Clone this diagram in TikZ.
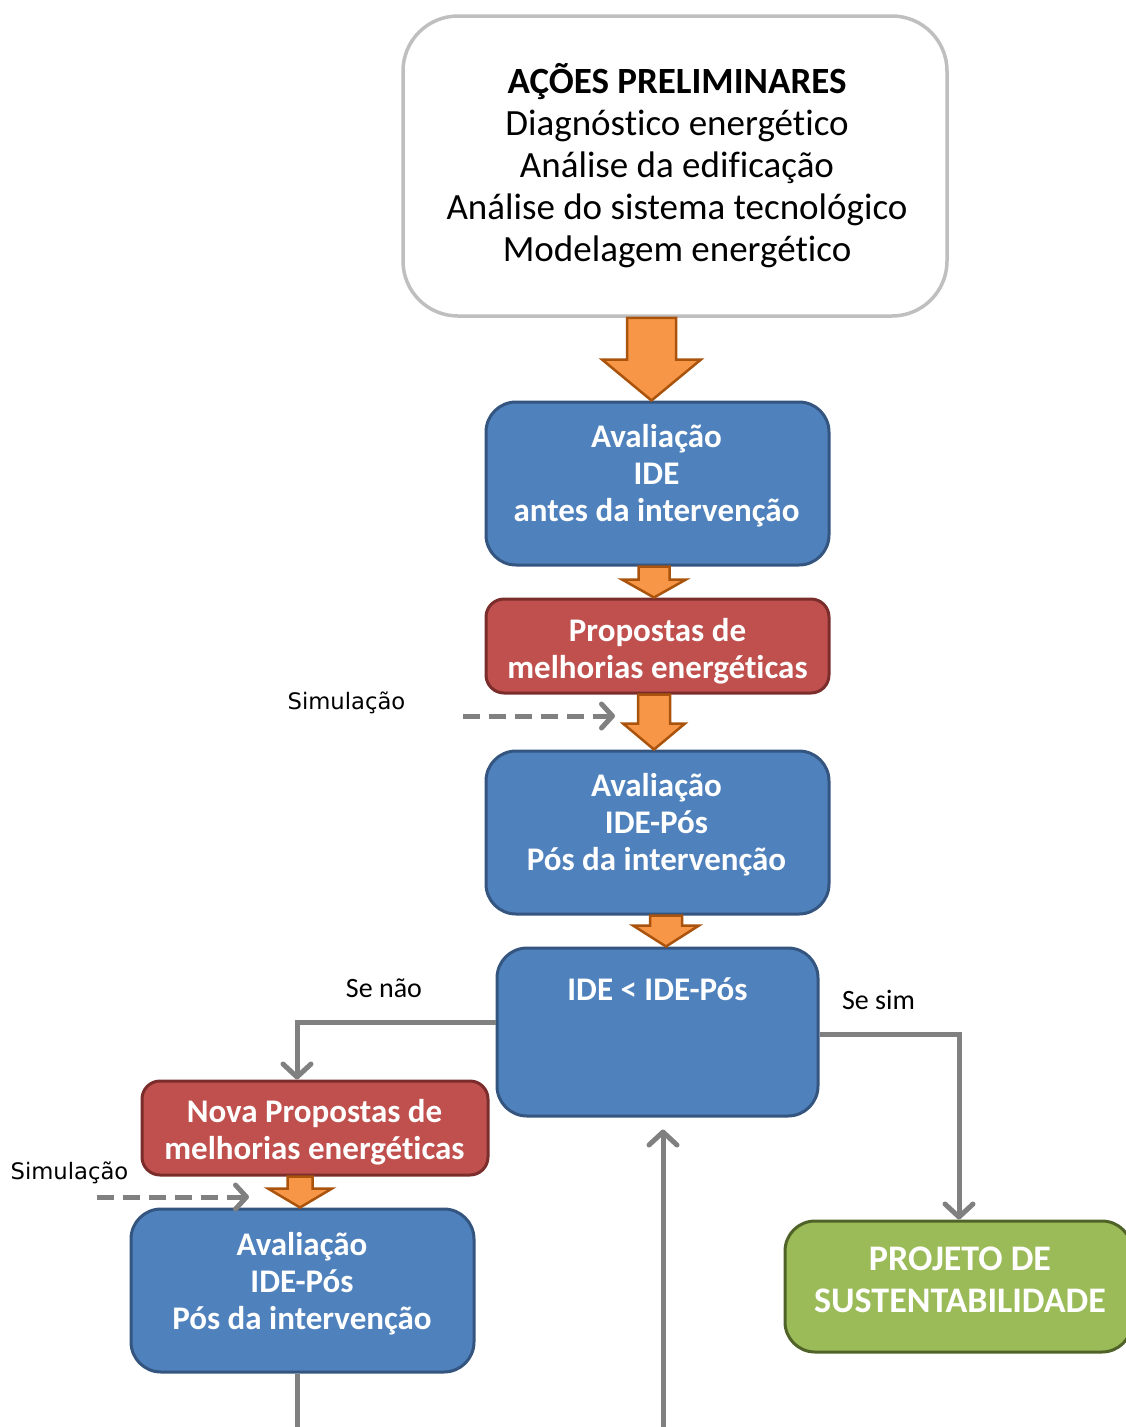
\documentclass[tikz,border=0pt]{standalone}
\usepackage{fontspec}
\setmainfont{Carlito}[Ligatures=NoCommon]
\newfontfamily\labelfont{DejaVu Sans}
\usetikzlibrary{calc,arrows.meta}

\definecolor{bluefill}{HTML}{4F81BD}
\definecolor{blueline}{HTML}{34557F}
\definecolor{redfill}{HTML}{C0504D}
\definecolor{redline}{HTML}{7A2D2A}
\definecolor{greenfill}{HTML}{9BBB59}
\definecolor{greenline}{HTML}{4F6228}
\definecolor{orangefill}{HTML}{F79646}
\definecolor{orangeline}{HTML}{A9530C}
\definecolor{connector}{HTML}{808080}
\definecolor{frameline}{HTML}{BFBFBF}

\tikzset{
  box/.style={rectangle, line width=3pt, inner sep=0pt},
  bluebox/.style={box, draw=blueline, fill=bluefill, rounded corners=30pt},
  redbox/.style={box, draw=redline, fill=redfill, rounded corners=18pt},
  greenbox/.style={box, draw=greenline, fill=greenfill, rounded corners=30pt},
  startbox/.style={box, draw=frameline, line width=3.5pt, fill=white, rounded corners=55pt},
  boxtext/.style={text=white, align=center, font=\bfseries\fontsize{33}{37}\selectfont},
  starttext/.style={text=black, align=center, font=\fontsize{37}{42}\selectfont},
  sidetext/.style={text=black, font=\fontsize{28}{32}\selectfont},
  simtext/.style={text=black, font=\labelfont\fontsize{22.7}{26}\selectfont},
  orangearrow/.style={fill=orangefill, draw=orangeline, line width=2.5pt, line join=miter},
  flowline/.style={draw=connector, line width=5pt,
    -{Straight Barb[length=13pt,width=28pt,round]}},
  simline/.style={draw=connector, line width=5pt, dash pattern=on 17pt off 9pt,
    -{Straight Barb[length=11pt,width=24pt,round]}},
}

% block arrow between two nodes: #1 from, #2 to, #3 x position,
% #4 shaft half width, #5 head half width, #6 head length
\newcommand\blockarrow[6]{%
  \draw[orangearrow] let \p1=(#1.south), \p2=(#2.north) in
    (#3pt-#4pt,\y1) -- (#3pt+#4pt,\y1) -- (#3pt+#4pt,\y2+#6pt) --
    (#3pt+#5pt,\y2+#6pt) -- (#3pt,\y2) -- (#3pt-#5pt,\y2+#6pt) --
    (#3pt-#4pt,\y2+#6pt) -- cycle;}

\begin{document}
\begin{tikzpicture}[x=1pt, y=-1pt]
\useasboundingbox (0,0) rectangle (1126,1427);
\clip (0,0) rectangle (1126,1427);

% boxes
\node[startbox, minimum width=544pt, minimum height=300pt] (start) at (675,166) {};
\node[bluebox, minimum width=343pt, minimum height=163pt] (ide1) at (657.5,483.5) {};
\node[redbox, minimum width=343pt, minimum height=94pt] (prop1) at (657.5,646) {};
\node[bluebox, minimum width=343pt, minimum height=163pt] (ide2) at (657.5,832.5) {};
\node[bluebox, minimum width=321pt, minimum height=168pt] (test) at (657.5,1032) {};
\node[redbox, minimum width=346pt, minimum height=94pt] (prop2) at (315,1128) {};
\node[bluebox, minimum width=343pt, minimum height=163pt] (ide3) at (302.5,1290.5) {};
\node[greenbox, minimum width=347pt, minimum height=131pt] (proj) at (958.5,1286.5) {};

% box texts
\node[starttext] (starttxt) at (677,166) {\textbf{AÇÕES PRELIMINARES}\\Diagnóstico energético\\Análise da edificação\\Análise do sistema tecnológico\\Modelagem energético};
\node[boxtext] (ide1txt) at (656.5,476) {Avaliação\\IDE\\antes da intervenção};
\node[boxtext] (prop1txt) at (657.5,651) {Propostas de\\melhorias energéticas};
\node[boxtext] (ide2txt) at (656.5,825) {Avaliação\\IDE-Pós\\Pós da intervenção};
\node[boxtext] (testtxt) at (657.5,989) {IDE < IDE-Pós};
\node[boxtext] (prop2txt) at (314.5,1132) {Nova Propostas de\\melhorias energéticas};
\node[boxtext] (ide3txt) at (302,1284) {Avaliação\\IDE-Pós\\Pós da intervenção};
\node[boxtext, font=\bfseries\fontsize{36}{42}\selectfont] (projtxt) at (960,1280) {PROJETO DE\\SUSTENTABILIDADE};

% side labels
\node[simtext] (sim1) at (346.5,703) {Simulação};
\node[simtext] (sim2) at (69.5,1173) {Simulação};
\node[sidetext] (nao) at (384,988) {Se não};
\node[sidetext] (sim) at (878.5,1000) {Se sim};

% block arrows of the main sequence
\blockarrow{start}{ide1}{651.5}{24.5}{49.5}{41}
\blockarrow{ide1}{prop1}{654}{15.5}{32}{18}
\blockarrow{prop1}{ide2}{654}{16}{31}{26}
\blockarrow{ide2}{test}{666}{16}{33}{21}
\blockarrow{prop2}{ide3}{300}{12.5}{32}{19}

% simulation inputs
\coordinate (sim1from) at (463,716);
\coordinate (sim1to) at (615,716);
\coordinate (sim2from) at (97,1197);
\coordinate (sim2to) at (249,1197);
\draw[simline] (sim1from) -- (sim1to);
\draw[simline] (sim2from) -- (sim2to);

% decision branches and loop back
\draw[flowline] ($(test.west)+(0,-10)$) -| ($(prop2.north)+(-18,0)$);
\draw[flowline] ($(test.east)+(0,2)$) -| ($(proj.north)+(0.5,0)$);
\draw[flowline] ($(ide3.south)+(-5.5,0)$) -- ++(0,59) -| ($(test.south)+(5.5,12)$);
\end{tikzpicture}
\end{document}
